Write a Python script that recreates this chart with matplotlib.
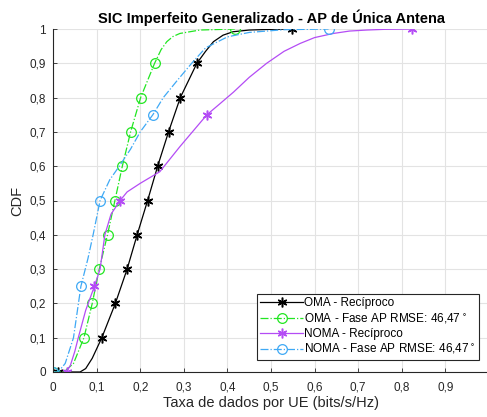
import matplotlib.pyplot as plt
import numpy as np

plt.rcParams['font.family'] = ['Liberation Sans', 'DejaVu Sans']

# ---- data
# OMA - Reciproco
oma_rec_x = [0.012, 0.062, 0.075, 0.09, 0.112, 0.143, 0.170, 0.193, 0.217, 0.240, 0.265,
             0.292, 0.330, 0.350, 0.368, 0.390, 0.413, 0.45, 0.50, 0.548]
oma_rec_y = [0, 0, 0.01, 0.04, 0.1, 0.2, 0.3, 0.4, 0.5, 0.6, 0.7,
             0.8, 0.9, 0.935, 0.963, 0.982, 0.992, 0.997, 0.999, 1.0]
oma_rec_mk = [0, 4, 5, 6, 7, 8, 9, 10, 11, 12, 19]

# OMA - Fase AP RMSE
oma_fase_x = [0, 0.025, 0.047, 0.071, 0.090, 0.106, 0.125, 0.142, 0.159, 0.178, 0.201,
              0.233, 0.248, 0.261, 0.275, 0.291, 0.337, 0.417]
oma_fase_y = [0, 0, 0.025, 0.1, 0.2, 0.3, 0.4, 0.5, 0.6, 0.7, 0.8,
              0.9, 0.94, 0.963, 0.978, 0.987, 0.997, 1.0]
oma_fase_mk = [0, 3, 4, 5, 6, 7, 8, 9, 10, 11, 17]

# NOMA - Reciproco
noma_rec_x = [0.031, 0.04, 0.05, 0.058, 0.075, 0.095, 0.108, 0.119, 0.133, 0.154, 0.17,
              0.2, 0.245, 0.291, 0.353, 0.38, 0.414, 0.45, 0.490, 0.53, 0.567, 0.60,
              0.643, 0.68, 0.72, 0.76, 0.824]
noma_rec_y = [0, 0.02, 0.06, 0.1, 0.18, 0.25, 0.3, 0.4, 0.46, 0.5, 0.525,
              0.55, 0.584, 0.657, 0.75, 0.779, 0.816, 0.859, 0.9, 0.935, 0.958, 0.975,
              0.987, 0.994, 0.997, 0.999, 1.0]
noma_rec_mk = [0, 5, 9, 14, 26]

# NOMA - Fase AP RMSE
noma_fase_x = [0, 0.012, 0.028, 0.047, 0.064, 0.080, 0.092, 0.108, 0.13, 0.152, 0.178,
               0.200, 0.229, 0.253, 0.285, 0.318, 0.35, 0.40, 0.45, 0.53, 0.632]
noma_fase_y = [0, 0, 0.025, 0.1, 0.25, 0.33, 0.4, 0.5, 0.56, 0.6, 0.65,
               0.7, 0.75, 0.8, 0.85, 0.9, 0.945, 0.977, 0.99, 0.998, 1.0]
noma_fase_mk = [0, 4, 7, 12, 20]

ticks = [0, 0.1, 0.2, 0.3, 0.4, 0.5, 0.6, 0.7, 0.8, 0.9, 1]
tick_labels = ['0', '0,1', '0,2', '0,3', '0,4', '0,5', '0,6', '0,7', '0,8', '0,9', '1']

green = '#22e622'
purple = '#b44cf5'
blue = '#3fa9f5'
axcol = '#262626'

fig = plt.figure(figsize=(4.87, 4.17), dpi=100)
ax = fig.add_axes([53/487, 1 - 372/417, 436/487, 343/417])

star = (6, 2, 0)
ax.plot(oma_rec_x, oma_rec_y, '-', color='k', lw=0.9, marker=star, markersize=7,
        mew=1.1, markevery=oma_rec_mk, label='OMA - Recíproco')
ax.plot(oma_fase_x, oma_fase_y, '-.', color=green, lw=0.9, marker='o', markersize=7,
        mfc='none', mew=0.9, markevery=oma_fase_mk, label='OMA - Fase AP RMSE: 46,47$^\\circ$')
ax.plot(noma_rec_x, noma_rec_y, '-', color=purple, lw=0.9, marker=star, markersize=7,
        mew=1.1, markevery=noma_rec_mk, label='NOMA - Recíproco')
ax.plot(noma_fase_x, noma_fase_y, '-.', color=blue, lw=0.9, marker='o', markersize=7,
        mfc='none', mew=0.9, markevery=noma_fase_mk, label='NOMA - Fase AP RMSE: 46,47$^\\circ$')

ax.set_xlim(0, 1)
ax.set_ylim(0, 1)
ax.set_xticks(ticks)
ax.set_xticklabels(tick_labels)
ax.set_yticks(ticks)
ax.set_yticklabels(tick_labels)
ax.grid(True, color='#e3e3e3', lw=0.8)
ax.set_axisbelow(True)
for s in ['top', 'right']:
    ax.spines[s].set_visible(False)
for s in ['left', 'bottom']:
    ax.spines[s].set_color(axcol)
    ax.spines[s].set_linewidth(0.8)
ax.tick_params(direction='in', length=3, width=0.6, colors=axcol, labelsize=8.5)
ax.tick_params(axis='x', pad=7)
ax.tick_params(axis='y', pad=5)
for lab in ax.get_xticklabels() + ax.get_yticklabels():
    lab.set_color(axcol)

ax.set_title('SIC Imperfeito Generalizado - AP de Única Antena', fontsize=10.5,
             fontweight='bold', pad=4)
ax.set_xlabel('Taxa de dados por UE (bits/s/Hz)', fontsize=10.5, color=axcol, labelpad=2)
ax.set_ylabel('CDF', fontsize=10.5, color=axcol, labelpad=4)

leg = ax.legend(loc='lower right', bbox_to_anchor=(0.977, 0.035), fontsize=8.5,
                handlelength=3.6, handletextpad=0.1, labelspacing=0.2,
                borderpad=0.3, fancybox=False, framealpha=1, edgecolor=axcol,
                borderaxespad=0)
leg.get_frame().set_linewidth(0.8)

fig.savefig('out.png', dpi=100)
